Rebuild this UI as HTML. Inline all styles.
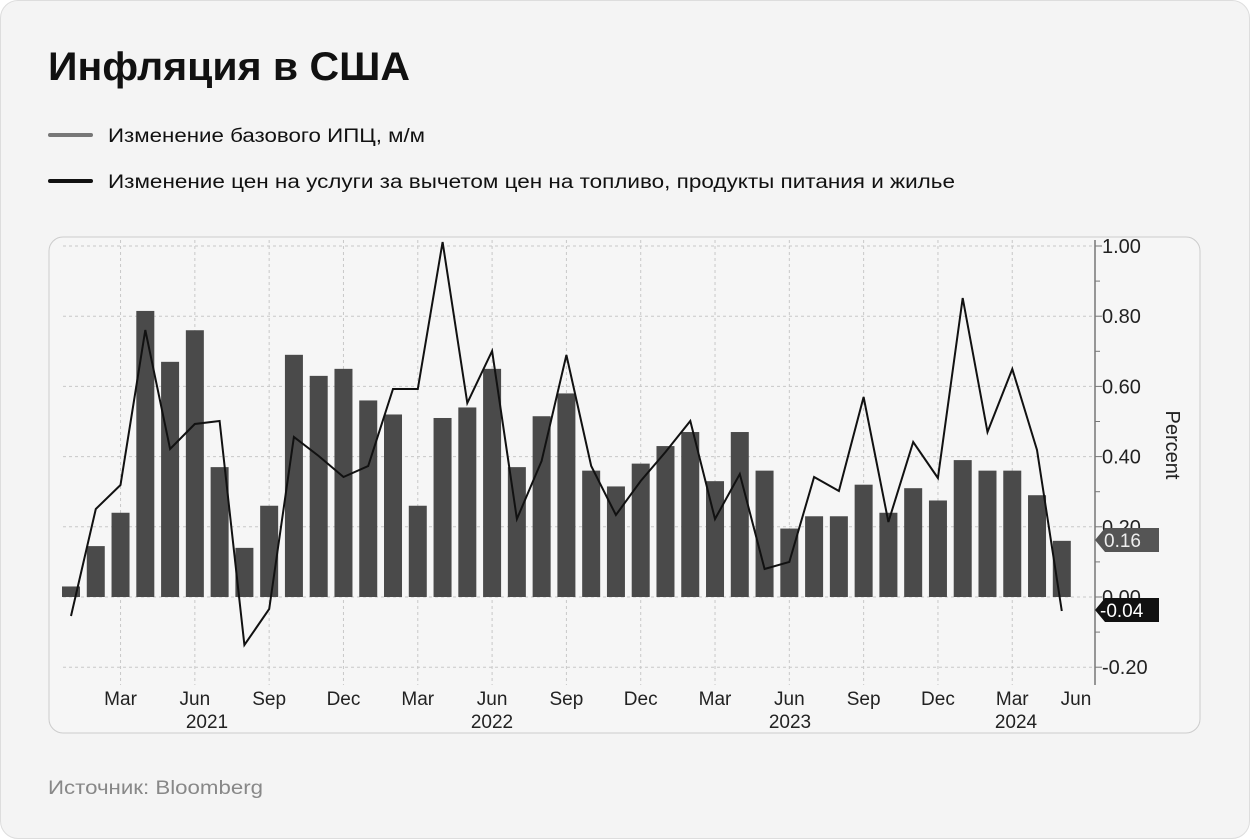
<!DOCTYPE html>
<html><head><meta charset="utf-8"><style>
body{margin:0;background:#fff;}
.card{position:absolute;left:0;top:0;width:1248px;height:837px;border:1px solid #ddd;border-radius:18px;background:#f4f4f4;font-family:"Liberation Sans",sans-serif;}
</style></head><body>
<div class="card"></div>
<svg width="1250" height="839" style="position:absolute;left:0;top:0" font-family="Liberation Sans, DejaVu Sans, sans-serif">
<text x="48" y="80" font-size="40" font-weight="bold" fill="#111" textLength="362" lengthAdjust="spacingAndGlyphs">Инфляция в США</text>
<rect x="48" y="133" width="45" height="4" rx="2" fill="#777"/>
<text x="108" y="142" font-size="19" fill="#111" textLength="317" lengthAdjust="spacingAndGlyphs">Изменение базового ИПЦ, м/м</text>
<rect x="48" y="179" width="45" height="4" rx="2" fill="#111"/>
<text x="108" y="188" font-size="19" fill="#111" textLength="847" lengthAdjust="spacingAndGlyphs">Изменение цен на услуги за вычетом цен на топливо, продукты питания и жилье</text>
<rect x="49" y="237" width="1151" height="496" rx="14" fill="#f6f6f6" stroke="#ccc"/>
<g id="grid" stroke="#c8c8c8" stroke-dasharray="3,3" stroke-width="1"></g>
<g id="bars" fill="#4a4a4a"></g>
<polyline id="line" fill="none" stroke="#111" stroke-width="2"/>
<line x1="1095" y1="240" x2="1095" y2="685" stroke="#777" stroke-width="1.5"/>
<g id="ticks" stroke="#777"></g>
<g font-size="20" fill="#222" id="ylab"></g>
<g font-size="19" fill="#222" text-anchor="middle" id="xlab"></g>
<text transform="translate(1166,445) rotate(90)" font-size="20" fill="#222" text-anchor="middle">Percent</text>
<polygon points="1095,540 1105,528 1159,528 1159,552 1105,552" fill="#555"/>
<text x="1104" y="547" font-size="19" fill="#eee">0.16</text>
<polygon points="1095,610 1105,598 1159,598 1159,622 1105,622" fill="#111"/>
<text x="1100" y="617" font-size="19" fill="#fff">-0.04</text>
<text x="48" y="794" font-size="19" fill="#888" textLength="215" lengthAdjust="spacingAndGlyphs">Источник: Bloomberg</text>
</svg>
<script>
const ns="http://www.w3.org/2000/svg";
function el(p,t,a,txt){const e=document.createElementNS(ns,t);for(const k in a)e.setAttribute(k,a[k]);if(txt!=null)e.textContent=txt;document.getElementById(p).appendChild(e);}
const z=597,s=351,x0=71,dx=24.77;
const b=[0.03,0.145,0.24,0.815,0.67,0.76,0.37,0.14,0.26,0.69,0.63,0.65,0.56,0.52,0.26,0.51,0.54,0.65,0.37,0.515,0.58,0.36,0.315,0.38,0.43,0.47,0.33,0.47,0.36,0.195,0.23,0.23,0.32,0.24,0.31,0.275,0.39,0.36,0.36,0.29,0.16];
const l=[616,509,485,330,449,424,421,645,609,437,456,477,466,389,389,242,403,351,519,461,355,466,515,481,452,421,519,474,569,562,477,491,397,522,442,478,298,432,369,450,611];
for(let v=-0.2;v<=1.001;v+=0.2){const y=z-v*s;el("grid","line",{x1:63,x2:1095,y1:y,y2:y});el("ticks","line",{x1:1095,x2:1102,y1:y,y2:y});el("ylab","text",{x:1102,y:y+7},(v<-0.01?"-":"")+Math.abs(v).toFixed(2));}
for(let v=-0.1;v<=1.0;v+=0.2){const y=z-v*s;el("ticks","line",{x1:1095,x2:1100,y1:y,y2:y});}
const mn=["Mar","Jun","Sep","Dec"];
for(let i=2;i<=41;i+=3){let x=x0+i*dx;if(i==41)x=1076;else el("grid","line",{x1:x,x2:x,y1:240,y2:685});el("xlab","text",{x:x,y:705},mn[((i-2)/3)%4]);}
[[207,"2021"],[492,"2022"],[790,"2023"],[1016,"2024"]].forEach(([x,t])=>el("xlab","text",{x:x,y:728},t));
b.forEach((v,i)=>{const x=x0+i*dx;el("bars","rect",{x:x-9,y:z-v*s,width:18,height:v*s});});
document.getElementById("line").setAttribute("points",l.map((y,i)=>(x0+i*dx).toFixed(1)+","+y).join(" "));
</script>
</body></html>
